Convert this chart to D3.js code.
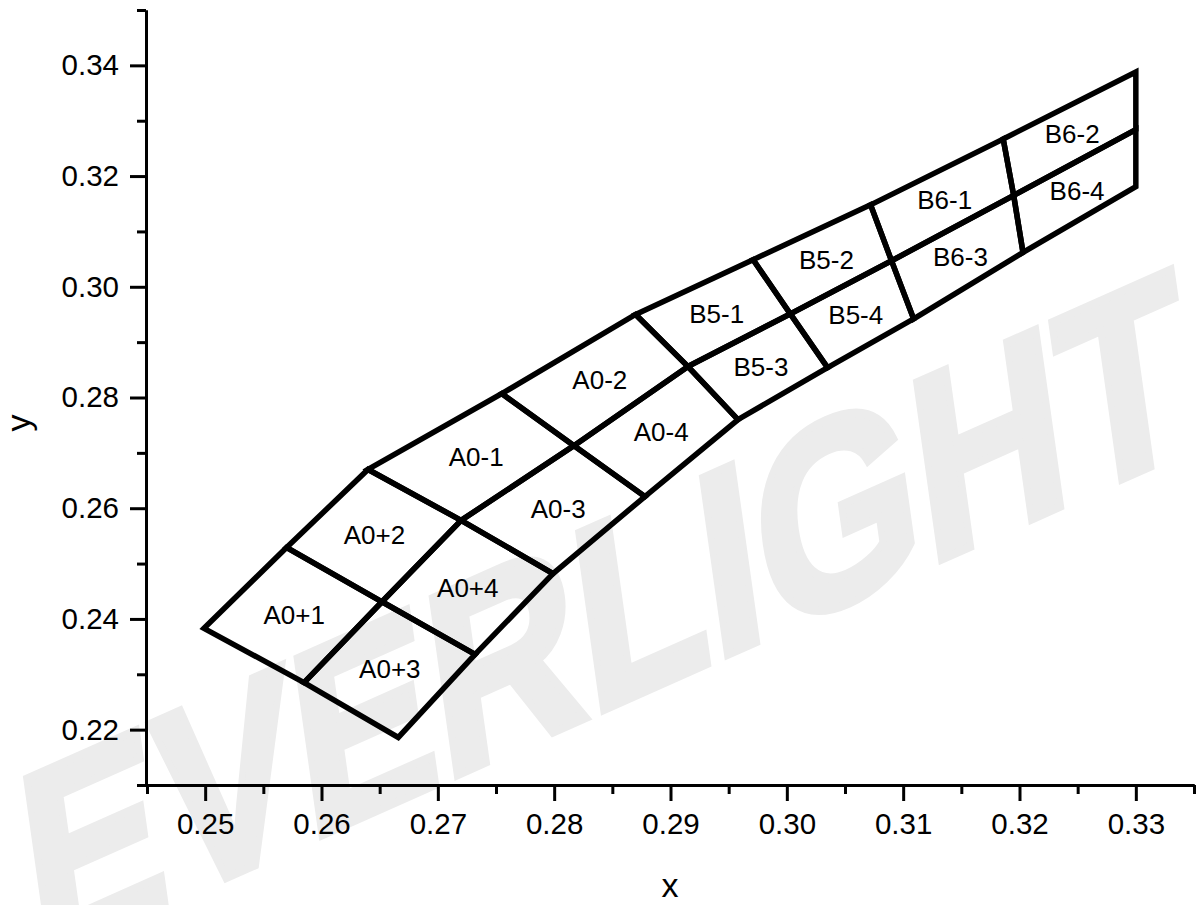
<!DOCTYPE html>
<html>
<head>
<meta charset="utf-8">
<script src="https://cdn.jsdelivr.net/npm/d3@7"></script>
<style>
  html, body { margin: 0; padding: 0; background: #fff; }
  svg { display: block; }
  text { font-family: "Liberation Sans", Arial, sans-serif; }
</style>
</head>
<body>
<div id="chart"></div>
<script>
// ---- data ----
const binLabels = ["A0+1","A0+2","A0+3","A0+4","A0-1","A0-2","A0-3","A0-4",
                   "B5-1","B5-2","B5-3","B5-4","B6-1","B6-2","B6-3","B6-4"];
// corner x values of each bin (4 corners, in drawing order)
const binX = [
  [0.2499, 0.2570, 0.2652, 0.2585],
  [0.2570, 0.2640, 0.2720, 0.2652],
  [0.2585, 0.2652, 0.2732, 0.2666],
  [0.2652, 0.2720, 0.2799, 0.2732],
  [0.2640, 0.2755, 0.2817, 0.2720],
  [0.2755, 0.2870, 0.2915, 0.2817],
  [0.2720, 0.2817, 0.2878, 0.2799],
  [0.2817, 0.2915, 0.2958, 0.2878],
  [0.2870, 0.2971, 0.3003, 0.2915],
  [0.2971, 0.3072, 0.3090, 0.3003],
  [0.2915, 0.3003, 0.3035, 0.2958],
  [0.3003, 0.3090, 0.3109, 0.3035],
  [0.3072, 0.3186, 0.3195, 0.3090],
  [0.3186, 0.3300, 0.3300, 0.3195],
  [0.3090, 0.3195, 0.3203, 0.3109],
  [0.3195, 0.3300, 0.3300, 0.3203]
];
// corner y values of each bin
const binY = [
  [0.2383, 0.2529, 0.2431, 0.2285],
  [0.2529, 0.2670, 0.2578, 0.2431],
  [0.2285, 0.2431, 0.2336, 0.2186],
  [0.2431, 0.2578, 0.2482, 0.2336],
  [0.2670, 0.2807, 0.2713, 0.2578],
  [0.2807, 0.2950, 0.2856, 0.2713],
  [0.2578, 0.2713, 0.2621, 0.2482],
  [0.2713, 0.2856, 0.2760, 0.2621],
  [0.2950, 0.3049, 0.2951, 0.2856],
  [0.3049, 0.3148, 0.3047, 0.2951],
  [0.2856, 0.2951, 0.2854, 0.2760],
  [0.2951, 0.3047, 0.2942, 0.2854],
  [0.3148, 0.3267, 0.3165, 0.3047],
  [0.3267, 0.3388, 0.3284, 0.3165],
  [0.3047, 0.3165, 0.3062, 0.2942],
  [0.3165, 0.3284, 0.3181, 0.3062]
];
const xMajorTicks = [0.25,0.26,0.27,0.28,0.29,0.30,0.31,0.32,0.33];
const xMinorTicks = [0.245,0.255,0.265,0.275,0.285,0.295,0.305,0.315,0.325,0.335];
const yMajorTicks = [0.22,0.24,0.26,0.28,0.30,0.32,0.34];
const yMinorTicks = [0.21,0.23,0.25,0.27,0.29,0.31,0.33,0.35];
const xDomain = [0.245, 0.335];
const yDomain = [0.21, 0.35];

// ---- drawing ----
const W = 1196, H = 905;
const svg = d3.select("#chart").append("svg").attr("width", W).attr("height", H);

// watermark
svg.append("text")
  .attr("transform", "translate(38,962) rotate(-24) skewX(-16)")
  .attr("font-size", 250)
  .attr("font-weight", "bold")
  .attr("fill", "#ececec")
  .attr("stroke", "#ececec")
  .attr("stroke-width", 8)
  .attr("stroke-linejoin", "miter")
  .attr("textLength", 1270)
  .attr("lengthAdjust", "spacingAndGlyphs")
  .text("EVERLIGHT");

const x = d3.scaleLinear().domain(xDomain).range([147, 1194]);
const y = d3.scaleLinear().domain(yDomain).range([785, 10]);

// bins
const cells = binLabels.map((lab, i) => ({
  label: lab,
  pts: binX[i].map((vx, k) => [x(vx), y(binY[i][k])])
}));

svg.append("g").selectAll("polygon").data(cells).join("polygon")
  .attr("points", d => d.pts.map(p => p.join(",")).join(" "))
  .attr("fill", "none")
  .attr("stroke", "#000")
  .attr("stroke-width", 5.5)
  .attr("stroke-linejoin", "miter");

svg.append("g").selectAll("text").data(cells).join("text")
  .attr("x", d => d3.mean(d.pts, p => p[0]))
  .attr("y", d => d3.mean(d.pts, p => p[1]))
  .attr("text-anchor", "middle")
  .attr("dy", "0.35em")
  .attr("font-size", 26)
  .attr("fill", "#000")
  .text(d => d.label);

// axes
function styleAxis(g) {
  g.selectAll("path.domain").attr("stroke", "#000").attr("stroke-width", 3);
  g.selectAll(".tick line").attr("stroke", "#000").attr("stroke-width", 3);
  g.selectAll(".tick text").attr("fill", "#000")
    .attr("font-family", "Liberation Sans, Arial, sans-serif").attr("font-size", 29.5);
}

const gxMinor = svg.append("g").attr("transform", "translate(0,785)")
  .call(d3.axisBottom(x).tickValues(xMinorTicks).tickSize(9).tickSizeOuter(0).tickFormat(""));
styleAxis(gxMinor);
const gxMajor = svg.append("g").attr("transform", "translate(0,785)")
  .call(d3.axisBottom(x).tickValues(xMajorTicks).tickSize(16).tickSizeOuter(0)
    .tickPadding(12).tickFormat(d3.format(".2f")));
styleAxis(gxMajor);

const gyMinor = svg.append("g").attr("transform", "translate(146,0)")
  .call(d3.axisLeft(y).tickValues(yMinorTicks).tickSize(9).tickSizeOuter(0).tickFormat(""));
styleAxis(gyMinor);
const gyMajor = svg.append("g").attr("transform", "translate(146,0)")
  .call(d3.axisLeft(y).tickValues(yMajorTicks).tickSize(16).tickSizeOuter(0)
    .tickPadding(11).tickFormat(d3.format(".2f")));
styleAxis(gyMajor);

// axis titles
svg.append("text")
  .attr("x", 670).attr("y", 897)
  .attr("text-anchor", "middle")
  .attr("font-size", 34)
  .attr("fill", "#000")
  .text("x");

svg.append("text")
  .attr("transform", "translate(30,423) rotate(-90)")
  .attr("text-anchor", "middle")
  .attr("font-size", 34)
  .attr("fill", "#000")
  .text("y");
</script>
</body>
</html>
